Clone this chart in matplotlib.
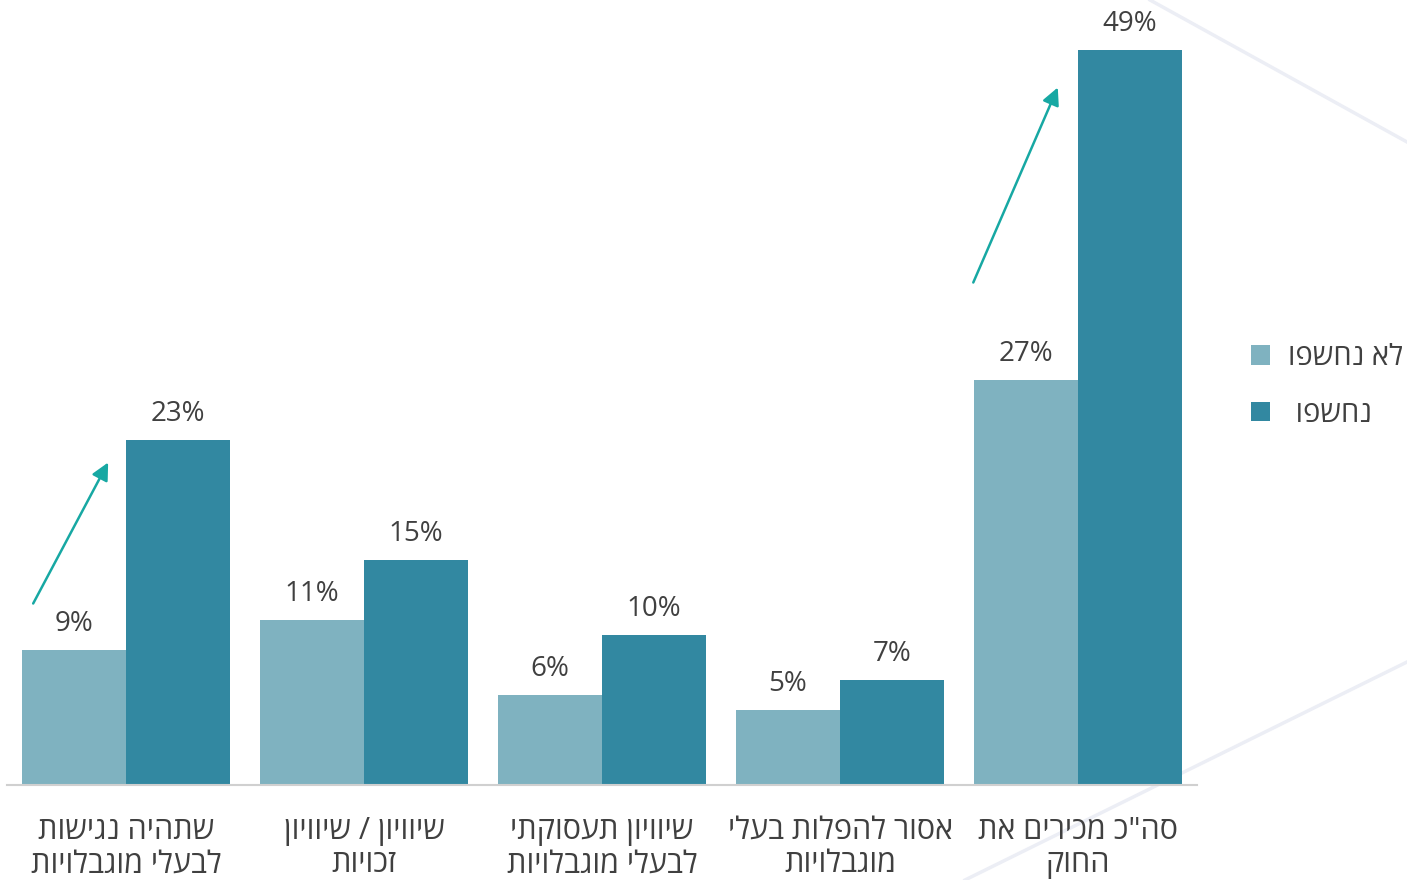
import matplotlib
matplotlib.use("Agg")
import matplotlib.pyplot as plt
from matplotlib.patches import Patch
import numpy as np

# Survey results: awareness of disability-rights law, by exposure to the campaign
categories = [
    "שתהיה נגישות\nלבעלי מוגבלויות",
    "שיוויון / שיוויון\nזכויות",
    "שיוויון תעסוקתי\nלבעלי מוגבלויות",
    "אסור להפלות בעלי\nמוגבלויות",
    'סה"כ מכירים את\nהחוק',
]
not_exposed = [9, 11, 6, 5, 27]
exposed = [23, 15, 10, 7, 49]
series_names = ["לא נחשפו", "נחשפו"]

# trend arrows: (group, tail x-offset, tail y, head x-offset, head y)
arrow_layout = [
    (0, -0.39, 12.1, -0.075, 21.5),
    (4, -0.44, 33.5, -0.085, 46.5),
]

LIGHT = "#7fb2c0"
DARK = "#3288a1"
ARROW = "#17a8a3"
TEXT = "#404040"

plt.rcParams["font.family"] = ["Open Sans", "DejaVu Sans"]


def visual(s):
    """Right-to-left text laid out for a left-to-right renderer."""
    return "\n".join(line[::-1] for line in s.split("\n"))


fig = plt.figure(figsize=(14.07, 8.80), dpi=100)
fig.patch.set_facecolor("white")

# faint decorative strokes in the background
bg = fig.add_axes([0, 0, 1, 1], zorder=-5)
bg.set_xlim(0, 1407)
bg.set_ylim(880, 0)
bg.axis("off")
bg.plot([1150, 1407], [0, 142], color="#eceef5", lw=2.5)
bg.plot([965, 1407], [880, 662], color="#eceef5", lw=2.5)

ax = fig.add_axes([7 / 1407, 1 - 785 / 880, 1190 / 1407, 780 / 880])
ax.patch.set_alpha(0)

x = np.arange(len(categories))
w = 0.437
b1 = ax.bar(x - w / 2, not_exposed, width=w, color=LIGHT, zorder=2)
b2 = ax.bar(x + w / 2, exposed, width=w, color=DARK, zorder=2)

for bars, vals in ((b1, not_exposed), (b2, exposed)):
    for rect, v in zip(bars, vals):
        ax.annotate(f"{v}%", (rect.get_x() + rect.get_width() / 2, v),
                    xytext=(0, 14), textcoords="offset points",
                    ha="center", va="baseline", fontsize=20, color=TEXT)

for g, tx, ty, hx, hy in arrow_layout:
    ax.annotate("", xy=(g + hx, hy), xytext=(g + tx, ty),
                arrowprops=dict(arrowstyle="-|>", color=ARROW, lw=1.8,
                                mutation_scale=26, shrinkA=0, shrinkB=0))

ax.set_xlim(-0.5, len(categories) - 0.5)
ax.set_ylim(0, 52)
ax.set_xticks(x)
ax.set_xticklabels([visual(c) for c in categories], fontsize=22,
                   color=TEXT, linespacing=1.17)
ax.tick_params(axis="x", length=0, pad=22)
ax.set_yticks([])
for side in ("top", "right", "left"):
    ax.spines[side].set_visible(False)
ax.spines["bottom"].set_color("#d0d0d0")
ax.spines["bottom"].set_linewidth(1.5)

handles = [Patch(facecolor=LIGHT), Patch(facecolor=DARK)]
fig.legend(handles, [visual(series_names[0]), " " + visual(series_names[1])],
           loc="center left", bbox_to_anchor=(1225 / 1407, 1 - 386 / 880),
           frameon=False, fontsize=21, handlelength=0.65, handleheight=0.65,
           labelspacing=0.95, handletextpad=0.6, labelcolor=TEXT)

fig.savefig("out.png", dpi=100, facecolor="white")
